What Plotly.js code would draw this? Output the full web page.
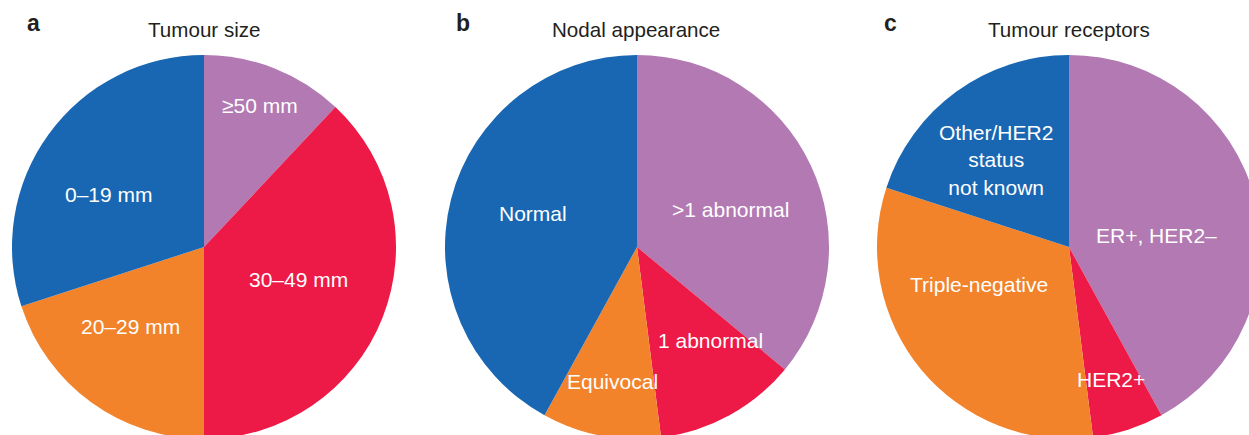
<!DOCTYPE html>
<html>
<head>
<meta charset="utf-8">
<script src="https://cdn.plot.ly/plotly-3.0.1.min.js"></script>
<style>
html, body { margin: 0; padding: 0; overflow: hidden; background: #fff; }
#chart { width: 1262px; height: 440px; }
</style>
</head>
<body>
<div id="chart"></div>
<script>
// ---- Data ----
var sizeLabels = ['≥50 mm', '30–49 mm', '20–29 mm', '0–19 mm'];
var sizeValues = [12, 38, 20, 30];

var nodalLabels = ['>1 abnormal', '1 abnormal', 'Equivocal', 'Normal'];
var nodalValues = [36, 12, 10, 42];

var receptorLabels = ['ER+, HER2–', 'HER2+', 'Triple-negative', 'Other/HER2<br>status<br>not known'];
var receptorValues = [42, 6, 32, 20];

var panelTitles = ['Tumour size', 'Nodal appearance', 'Tumour receptors'];
var panelLetters = ['a', 'b', 'c'];

// ---- Styles / layout geometry ----
var W = 1262, H = 440;
var sliceColors = ['#b279b3', '#ed1946', '#f2832a', '#1967b2'];
var R = 192;
var centers = [[204, 247], [637, 247], [1069, 247]];
var titlePos = [[204, 29], [636, 29], [1069, 29]];
var letterPos = [[33, 23], [463, 23], [890, 23]];
var labelPos = [
  [[260, 105], [298, 279], [130, 326], [109, 195]],
  [[730, 209], [710, 340], [612, 381], [533, 213]],
  [[1156, 235], [1111, 379], [979, 284], [996, 160]]
];

function px(x) { return x / W; }
function py(y) { return 1 - y / H; }

function pieTrace(labels, values, c) {
  return {
    type: 'pie',
    labels: labels,
    values: values,
    sort: false,
    direction: 'clockwise',
    rotation: 0,
    textinfo: 'none',
    hoverinfo: 'label+value',
    marker: { colors: sliceColors, line: { width: 0 } },
    domain: {
      x: [px(c[0] - R), px(c[0] + R)],
      y: [py(c[1] + R), py(c[1] - R)]
    },
    showlegend: false
  };
}

var allLabels = [sizeLabels, nodalLabels, receptorLabels];
var allValues = [sizeValues, nodalValues, receptorValues];
var data = [];
for (var i = 0; i < 3; i++) data.push(pieTrace(allLabels[i], allValues[i], centers[i]));

var font = 'Liberation Sans, Arial, Helvetica, sans-serif';
var annotations = [];
for (var i = 0; i < 3; i++) {
  annotations.push({
    xref: 'paper', yref: 'paper', x: px(titlePos[i][0]), y: py(titlePos[i][1]),
    xanchor: 'center', yanchor: 'middle', showarrow: false,
    text: panelTitles[i], font: { family: font, size: 20.6, color: '#231f20' }
  });
  annotations.push({
    xref: 'paper', yref: 'paper', x: px(letterPos[i][0]), y: py(letterPos[i][1]),
    xanchor: 'center', yanchor: 'middle', showarrow: false,
    text: '<b>' + panelLetters[i] + '</b>', font: { family: font, size: 23, color: '#231f20' }
  });
  for (var j = 0; j < allLabels[i].length; j++) {
    annotations.push({
      xref: 'paper', yref: 'paper', x: px(labelPos[i][j][0]), y: py(labelPos[i][j][1]),
      xanchor: 'center', yanchor: 'middle', showarrow: false,
      text: allLabels[i][j], font: { family: font, size: 21, color: '#ffffff' }
    });
  }
}

var layout = {
  width: W, height: H,
  margin: { l: 0, r: 0, t: 0, b: 0, pad: 0 },
  paper_bgcolor: '#ffffff',
  showlegend: false,
  annotations: annotations
};

Plotly.newPlot('chart', data, layout, { displayModeBar: false, staticPlot: true });
</script>
</body>
</html>
